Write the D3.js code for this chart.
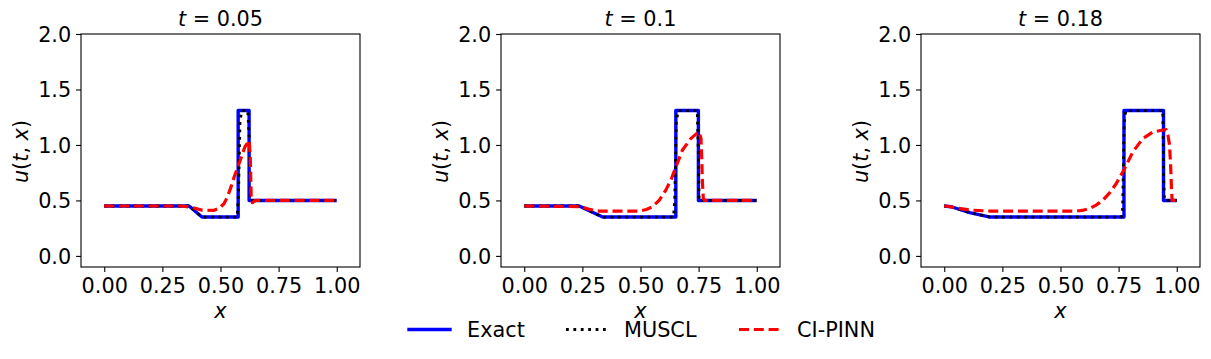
<!DOCTYPE html>
<html>
<head>
<meta charset="utf-8">
<script src="https://cdn.jsdelivr.net/npm/d3@7/dist/d3.min.js"></script>
<style>
  html, body { margin: 0; padding: 0; background: #fff; }
  svg { display: block; }
  text { font-family: "DejaVu Sans", sans-serif; fill: #000; }
</style>
</head>
<body>
<svg id="chart" width="1211" height="359"></svg>
<script>
// ---------------- data ----------------
const panelTimes = ["0.05", "0.1", "0.18"];
const xTicks = [0, 0.25, 0.5, 0.75, 1.0];
const xTickLabels = ["0.00", "0.25", "0.50", "0.75", "1.00"];
const yTicks = [0, 0.5, 1.0, 1.5, 2.0];
const yTickLabels = ["0.0", "0.5", "1.0", "1.5", "2.0"];
const seriesNames = ["Exact", "MUSCL", "CI-PINN"];

// t = 0.05
const exact1 = [[0,0.45],[0.365,0.45],[0.42,0.35],[0.576,0.35],[0.576,1.31],[0.623,1.31],[0.623,0.5],[1,0.5]];
const muscl1 = [[0,0.45],[0.365,0.45],[0.42,0.35],[0.572,0.35],[0.578,0.6],[0.584,1.22],[0.592,1.31],[0.617,1.31],[0.624,1.05],[0.628,0.5],[1,0.5]];
const pinn1  = [[0,0.45],[0.33,0.45],[0.37,0.44],[0.42,0.413],[0.47,0.41],[0.494,0.428],[0.515,0.47],[0.53,0.533],[0.545,0.62],[0.559,0.713],[0.58,0.833],[0.605,0.982],[0.623,1.04],[0.628,0.9],[0.63,0.7],[0.632,0.53],[0.637,0.48],[0.65,0.5],[1,0.5]];

// t = 0.1
const exact2 = [[0,0.45],[0.236,0.45],[0.337,0.35],[0.652,0.35],[0.652,1.31],[0.749,1.31],[0.749,0.5],[1,0.5]];
const muscl2 = [[0,0.45],[0.236,0.45],[0.337,0.35],[0.642,0.35],[0.647,0.5],[0.654,1.2],[0.662,1.31],[0.744,1.31],[0.749,0.9],[0.752,0.5],[1,0.5]];
const pinn2  = [[0,0.45],[0.236,0.445],[0.28,0.42],[0.322,0.404],[0.494,0.404],[0.525,0.418],[0.551,0.443],[0.58,0.5],[0.609,0.593],[0.632,0.69],[0.652,0.8],[0.68,0.952],[0.716,1.057],[0.74,1.1],[0.752,1.117],[0.76,1.06],[0.763,0.9],[0.766,0.68],[0.77,0.52],[0.775,0.5],[1,0.5]];

// t = 0.18
const exact3 = [[0,0.45],[0.03,0.443],[0.11,0.39],[0.197,0.35],[0.773,0.35],[0.773,1.31],[0.943,1.31],[0.943,0.5],[1,0.5]];
const muscl3 = [[0,0.45],[0.03,0.443],[0.11,0.39],[0.197,0.35],[0.762,0.35],[0.767,0.42],[0.774,1.2],[0.781,1.31],[0.94,1.31],[0.944,0.7],[0.947,0.5],[1,0.5]];
const pinn3  = [[0,0.45],[0.02,0.445],[0.06,0.43],[0.111,0.413],[0.197,0.404],[0.569,0.404],[0.6,0.413],[0.626,0.428],[0.655,0.46],[0.683,0.503],[0.712,0.57],[0.74,0.653],[0.776,0.788],[0.811,0.937],[0.854,1.057],[0.897,1.117],[0.93,1.13],[0.954,1.138],[0.962,1.09],[0.969,1.0],[0.974,0.8],[0.977,0.62],[0.98,0.5],[1,0.5]];

const panels = [
  { t: panelTimes[0], exact: exact1, muscl: muscl1, pinn: pinn1 },
  { t: panelTimes[1], exact: exact2, muscl: muscl2, pinn: pinn2 },
  { t: panelTimes[2], exact: exact3, muscl: muscl3, pinn: pinn3 }
];

// ---------------- layout ----------------
const svg = d3.select("#chart");
const FS = 20.8;
const axW = 279, axTop = 34, axBottom = 267;
const lefts = [81, 501, 921];
const tickLen = 4.9, tickPad = 4.9;

const styles = {
  exact: { color: "#0000ff", width: 3.4, dash: null, cap: "square" },
  muscl: { color: "#000000", width: 2.8, dash: "2.8,4.6", cap: "butt" },
  pinn:  { color: "#ff0000", width: 3.2, dash: "10,4.8", cap: "butt" }
};

panels.forEach((p, i) => {
  const L = lefts[i];
  const x = d3.scaleLinear().domain([-0.1, 1.1]).range([L, L + axW]);
  const y = d3.scaleLinear().domain([-0.1, 2.0]).range([axBottom, axTop]);
  const g = svg.append("g");

  const clipId = "clip" + i;
  g.append("clipPath").attr("id", clipId).append("rect")
    .attr("x", L).attr("y", axTop).attr("width", axW).attr("height", axBottom - axTop);

  const line = d3.line().x(d => x(d[0])).y(d => y(d[1]));
  const plot = g.append("g").attr("clip-path", `url(#${clipId})`);
  ["exact", "muscl", "pinn"].forEach(k => {
    const s = styles[k];
    plot.append("path").datum(p[k])
      .attr("d", line)
      .attr("fill", "none")
      .attr("stroke", s.color)
      .attr("stroke-width", s.width)
      .attr("stroke-linejoin", "round")
      .attr("stroke-linecap", k === "exact" ? "butt" : s.cap)
      .attr("stroke-dasharray", s.dash);
  });

  // axes
  const xAxis = d3.axisBottom(x).tickValues(xTicks).tickFormat((d, j) => xTickLabels[j])
    .tickSizeInner(tickLen).tickSizeOuter(0).tickPadding(tickPad);
  const yAxis = d3.axisLeft(y).tickValues(yTicks).tickFormat((d, j) => yTickLabels[j])
    .tickSizeInner(tickLen).tickSizeOuter(0).tickPadding(tickPad);

  const gx = g.append("g").attr("transform", `translate(0,${axBottom})`).call(xAxis);
  const gy = g.append("g").attr("transform", `translate(${L},0)`).call(yAxis);
  [gx, gy].forEach(a => {
    a.select(".domain").remove();
    a.selectAll(".tick line").attr("stroke", "#000").attr("stroke-width", 1.1);
    a.selectAll(".tick text").attr("font-size", FS).attr("font-family", "DejaVu Sans").attr("fill", "#000");
  });
  gx.selectAll(".tick text").attr("dy", "0.76em");
  gy.selectAll(".tick text").attr("dy", "0.36em");

  // frame
  g.append("rect").attr("x", L).attr("y", axTop).attr("width", axW).attr("height", axBottom - axTop)
    .attr("fill", "none").attr("stroke", "#000").attr("stroke-width", 1.1);

  // title
  const title = g.append("text").attr("x", L + axW / 2).attr("y", 25.5)
    .attr("text-anchor", "middle").attr("font-size", FS);
  title.append("tspan").attr("font-style", "italic").text("t");
  title.append("tspan").text(" = " + p.t);

  // x label
  g.append("text").attr("x", L + axW / 2).attr("y", 318).attr("text-anchor", "middle")
    .attr("font-size", FS).attr("font-style", "italic").text("x");

  // y label
  const yl = g.append("text")
    .attr("text-anchor", "middle").attr("font-size", FS);
  yl.append("tspan").attr("font-style", "italic").text("u");
  yl.append("tspan").text("(");
  yl.append("tspan").attr("font-style", "italic").text("t");
  yl.append("tspan").text(", ");
  yl.append("tspan").attr("font-style", "italic").text("x");
  yl.append("tspan").text(")");
  yl.attr("transform", `translate(${L - 53},${(axTop + axBottom) / 2 + 1}) rotate(-90)`);
});

// ---------------- legend ----------------
const legendItems = [
  { name: seriesNames[0], key: "exact", x0: 409, x1: 450, tx: 467 },
  { name: seriesNames[1], key: "muscl", x0: 566, x1: 607, tx: 624 },
  { name: seriesNames[2], key: "pinn",  x0: 739, x1: 780, tx: 797 }
];
const lg = svg.append("g");
legendItems.forEach(it => {
  const s = styles[it.key];
  lg.append("line").attr("x1", it.x0).attr("x2", it.x1).attr("y1", 329.5).attr("y2", 329.5)
    .attr("stroke", s.color).attr("stroke-width", s.width)
    .attr("stroke-linecap", s.cap).attr("stroke-dasharray", s.dash);
  lg.append("text").attr("x", it.tx).attr("y", 336.6).attr("font-size", FS).text(it.name);
});
</script>
</body>
</html>
